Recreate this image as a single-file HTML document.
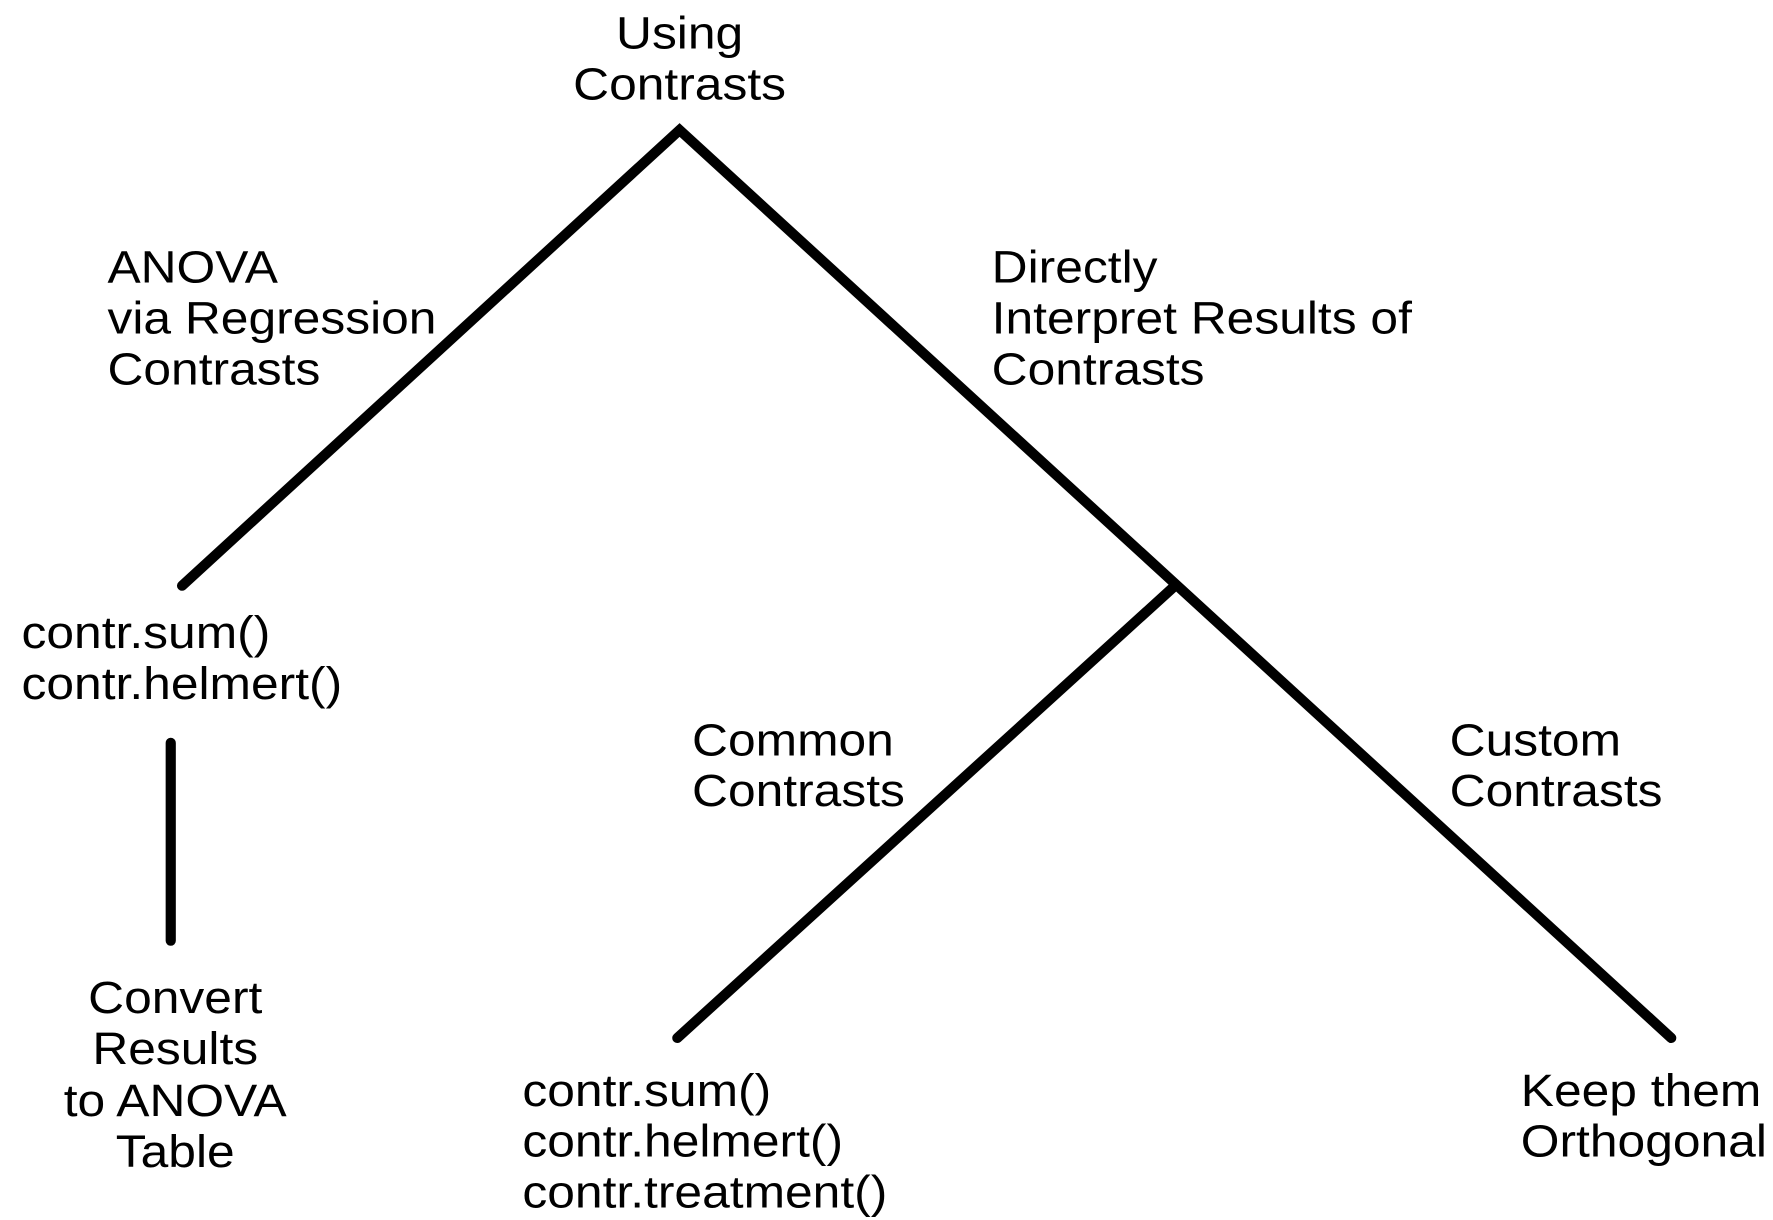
<!DOCTYPE html>
<html><head><meta charset="utf-8"><style>html,body{margin:0;padding:0;background:#fff}svg{display:block}</style></head>
<body>
<svg width="1773" height="1220" viewBox="0 0 1568 1079" preserveAspectRatio="none" xmlns="http://www.w3.org/2000/svg">
<g stroke="#000" stroke-width="9" stroke-linecap="round" fill="none">
<polyline points="161,518 601,115 1478,918"/>
<line x1="1037" y1="520" x2="599" y2="918"/>
<line x1="151" y1="657" x2="151" y2="832"/>
</g>
<g font-family="Liberation Sans, Arial, sans-serif" font-size="40" fill="#000" transform="scale(1.1,1)">
<text x="546.4" y="43" text-anchor="middle">Using</text>
<text x="546.4" y="88" text-anchor="middle">Contrasts</text>
<text x="86.4" y="250">ANOVA</text>
<text x="86.4" y="295">via Regression</text>
<text x="86.4" y="340">Contrasts</text>
<text x="797.3" y="250">Directly</text>
<text x="797.3" y="295">Interpret Results of</text>
<text x="797.3" y="340">Contrasts</text>
<text x="17.3" y="573">contr.sum()</text>
<text x="17.3" y="618">contr.helmert()</text>
<text x="556.4" y="668">Common</text>
<text x="556.4" y="713">Contrasts</text>
<text x="1165.5" y="668">Custom</text>
<text x="1165.5" y="713">Contrasts</text>
<text x="140.9" y="896" text-anchor="middle">Convert</text>
<text x="140.9" y="941" text-anchor="middle">Results</text>
<text x="140.9" y="987" text-anchor="middle">to ANOVA</text>
<text x="140.9" y="1032" text-anchor="middle">Table</text>
<text x="420" y="978">contr.sum()</text>
<text x="420" y="1023">contr.helmert()</text>
<text x="420" y="1068">contr.treatment()</text>
<text x="1222.7" y="978">Keep them</text>
<text x="1222.7" y="1023">Orthogonal</text>
</g>
</svg>
</body></html>
